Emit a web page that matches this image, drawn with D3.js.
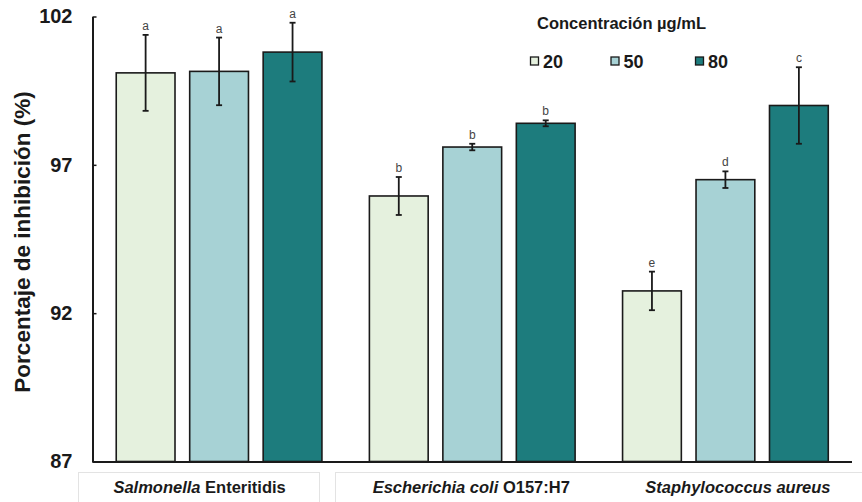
<!DOCTYPE html>
<html>
<head>
<meta charset="utf-8">
<script src="https://cdn.jsdelivr.net/npm/d3@7"></script>
<style>
  html, body { margin: 0; padding: 0; background: #fff; }
  svg { display: block; font-family: "Liberation Sans", Arial, sans-serif; }
</style>
</head>
<body>
<svg id="chart" width="862" height="502"></svg>
<script>
// Bacteria tested (genus/species italic, strain regular)
const categories = ["Salmonella Enteritidis", "Escherichia coli O157:H7", "Staphylococcus aureus"];
const concentrations = ["20", "50", "80"];

// Mean inhibition (%) per concentration, in category order
const values20 = [100.1, 95.95, 92.75];
const values50 = [100.15, 97.6, 96.5];
const values80 = [100.8, 98.4, 99.0];

// Error (±) per concentration
const err20 = [1.28, 0.64, 0.65];
const err50 = [1.14, 0.11, 0.28];
const err80 = [0.99, 0.10, 1.29];

// Significance letters
const letters20 = ["a", "b", "e"];
const letters50 = ["a", "b", "d"];
const letters80 = ["a", "b", "c"];

const yTicks = [87, 92, 97, 102];
const colors = ["#e5f1de", "#a7d2d5", "#1d7c7d"];

const seriesValues = [values20, values50, values80];
const seriesErr = [err20, err50, err80];
const seriesLetters = [letters20, letters50, letters80];

const rows = [];
categories.forEach((c, i) => {
  concentrations.forEach((k, j) => {
    rows.push({ cat: c, conc: k, v: seriesValues[j][i], e: seriesErr[j][i], l: seriesLetters[j][i] });
  });
});

const svg = d3.select("#chart");
const plotLeft = 92.5, plotRight = 852, plotTop = 16.5, plotBottom = 461.5;

const x0 = d3.scaleBand().domain(categories).range([plotLeft, plotRight]).paddingInner(0).paddingOuter(0);
const x1 = d3.scaleBand().domain(concentrations).range([0, x0.bandwidth()]).paddingInner(0.2).paddingOuter(0.323);
const y = d3.scaleLinear().domain([87, 102]).range([plotBottom, plotTop]);
const color = d3.scaleOrdinal().domain(concentrations).range(colors);

// Bars
svg.append("g").selectAll("rect").data(rows).join("rect")
  .attr("x", d => x0(d.cat) + x1(d.conc))
  .attr("y", d => y(d.v))
  .attr("width", x1.bandwidth())
  .attr("height", d => y(87) - y(d.v))
  .attr("fill", d => color(d.conc))
  .attr("stroke", "#1a1a1a")
  .attr("stroke-width", 1.6);

// Error bars
const eb = svg.append("g").attr("stroke", "#1a1a1a").attr("stroke-width", 1.8);
rows.forEach(d => {
  const cx = x0(d.cat) + x1(d.conc) + x1.bandwidth() / 2;
  const y1 = y(d.v + d.e), y2 = y(d.v - d.e);
  eb.append("line").attr("x1", cx).attr("x2", cx).attr("y1", y1).attr("y2", y2);
  eb.append("line").attr("x1", cx - 3).attr("x2", cx + 3).attr("y1", y1).attr("y2", y1);
  eb.append("line").attr("x1", cx - 3).attr("x2", cx + 3).attr("y1", y2).attr("y2", y2);
});

// Significance letters
svg.append("g").selectAll("text").data(rows).join("text")
  .attr("x", d => x0(d.cat) + x1(d.conc) + x1.bandwidth() / 2)
  .attr("y", d => y(d.v + d.e) - 5)
  .attr("text-anchor", "middle")
  .attr("font-size", 12)
  .attr("fill", "#444")
  .text(d => d.l);

// Y axis
const yAxis = d3.axisLeft(y).tickValues(yTicks).tickSizeInner(-4).tickSizeOuter(0).tickPadding(20);
const gy = svg.append("g").attr("transform", `translate(${plotLeft},0)`).call(yAxis);
gy.select(".domain").attr("stroke", "#1a1a1a").attr("stroke-width", 2);
gy.selectAll(".tick line").attr("stroke", "#1a1a1a").attr("stroke-width", 1.5);
gy.selectAll(".tick text").attr("font-size", 20).attr("font-weight", "bold").attr("fill", "#1a1a1a")
  .attr("font-family", "'Liberation Sans', Arial, sans-serif");

// X axis baseline
svg.append("line")
  .attr("x1", plotLeft).attr("x2", plotRight).attr("y1", y(87) + 0.5).attr("y2", y(87) + 0.5)
  .attr("stroke", "#1a1a1a").attr("stroke-width", 2);

// Y axis title
svg.append("text")
  .attr("transform", `translate(29.5,242) rotate(-90)`)
  .attr("text-anchor", "middle")
  .attr("font-size", 22.5)
  .attr("font-weight", "bold")
  .attr("fill", "#1a1a1a")
  .text("Porcentaje de inhibición (%)");

// Category label boxes
svg.append("rect").attr("x", 78.5).attr("y", 472.5).attr("width", 241).attr("height", 40)
  .attr("fill", "none").attr("stroke", "#e3e3e3").attr("stroke-width", 1);
svg.append("rect").attr("x", 335.5).attr("y", 472.5).attr("width", 540).attr("height", 40)
  .attr("fill", "none").attr("stroke", "#e3e3e3").attr("stroke-width", 1);

// Category labels
const labelShift = [-19.5, -1, 12.5];
const catParts = [
  [{ t: "Salmonella", it: true }, { t: " Enteritidis", it: false }],
  [{ t: "Escherichia coli", it: true }, { t: " O157:H7", it: false }],
  [{ t: "Staphylococcus aureus", it: true }]
];
categories.forEach((c, i) => {
  const t = svg.append("text")
    .attr("x", x0(c) + x0.bandwidth() / 2 + labelShift[i])
    .attr("y", 493)
    .attr("text-anchor", "middle")
    .attr("font-size", 16.5)
    .attr("font-weight", "bold")
    .attr("fill", "#1a1a1a");
  catParts[i].forEach(p => {
    t.append("tspan")
      .attr("font-style", p.it ? "italic" : "normal")
      .text(p.t);
  });
});

// Legend
const lg = svg.append("g");
lg.append("text").attr("x", 537).attr("y", 28.5)
  .attr("font-size", 16.5).attr("font-weight", "bold").attr("fill", "#1a1a1a")
  .text("Concentración µg/mL");
const legendX = [530.5, 611, 695.5];
concentrations.forEach((k, j) => {
  lg.append("rect").attr("x", legendX[j]).attr("y", 57).attr("width", 8).attr("height", 8)
    .attr("fill", color(k)).attr("stroke", "#1a1a1a").attr("stroke-width", 1.3);
  lg.append("text").attr("x", legendX[j] + 12.5).attr("y", 67.5)
    .attr("font-size", 18).attr("font-weight", "bold").attr("fill", "#1a1a1a")
    .text(k);
});
</script>
</body>
</html>
